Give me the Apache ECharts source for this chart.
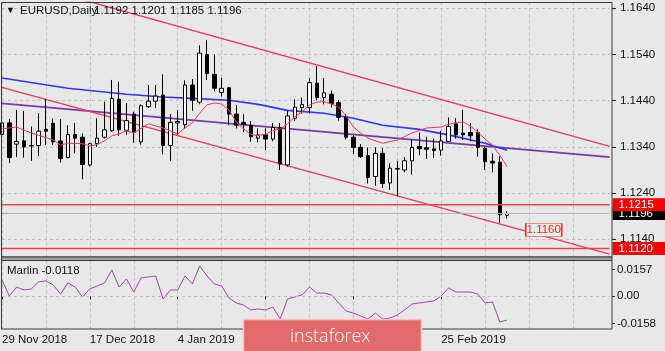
<!DOCTYPE html>
<html>
<head>
<meta charset="utf-8">
<script src="https://cdn.jsdelivr.net/npm/echarts@6/dist/echarts.min.js"></script>
<style>
html, body { margin: 0; padding: 0; background: #e8e8e8; }
#chart { width: 665px; height: 351px; }
</style>
</head>
<body>
<div id="chart"></div>
<script>
// EURUSD daily bars, 29 Nov 2018 .. 8 Mar 2019
const dates = ['29 Nov 2018','30 Nov 2018','3 Dec 2018','4 Dec 2018','5 Dec 2018','6 Dec 2018','7 Dec 2018','10 Dec 2018','11 Dec 2018','12 Dec 2018',
  '13 Dec 2018','14 Dec 2018','17 Dec 2018','18 Dec 2018','19 Dec 2018','20 Dec 2018','21 Dec 2018','24 Dec 2018','26 Dec 2018','27 Dec 2018',
  '28 Dec 2018','31 Dec 2018','2 Jan 2019','3 Jan 2019','4 Jan 2019','7 Jan 2019','8 Jan 2019','9 Jan 2019','10 Jan 2019','11 Jan 2019',
  '14 Jan 2019','15 Jan 2019','16 Jan 2019','17 Jan 2019','18 Jan 2019','21 Jan 2019','22 Jan 2019','23 Jan 2019','24 Jan 2019','25 Jan 2019',
  '28 Jan 2019','29 Jan 2019','30 Jan 2019','31 Jan 2019','1 Feb 2019','4 Feb 2019','5 Feb 2019','6 Feb 2019','7 Feb 2019','8 Feb 2019',
  '11 Feb 2019','12 Feb 2019','13 Feb 2019','14 Feb 2019','15 Feb 2019','18 Feb 2019','19 Feb 2019','20 Feb 2019','21 Feb 2019','22 Feb 2019',
  '25 Feb 2019','26 Feb 2019','27 Feb 2019','28 Feb 2019','1 Mar 2019','4 Mar 2019','5 Mar 2019','6 Mar 2019','7 Mar 2019','8 Mar 2019'];

const opens = [1.1367,1.1392,1.1346,1.1353,1.1342,1.1343,1.1378,1.1391,1.1353,1.1317,
  1.1367,1.1361,1.1301,1.1347,1.1361,1.1375,1.1443,1.1376,1.1411,1.1351,
  1.1427,1.1439,1.1452,1.1343,1.1392,1.1388,1.1474,1.1437,1.1540,1.1497,
  1.1458,1.1468,1.1411,1.1393,1.1386,1.1359,1.1366,1.1357,1.1382,1.1301,
  1.1402,1.1425,1.1425,1.1478,1.1447,1.1454,1.1436,1.1405,1.1361,1.1339,
  1.1321,1.1276,1.1326,1.1262,1.1293,1.1290,1.1310,1.1341,1.1338,1.1336,
  1.1333,1.1352,1.1390,1.1370,1.1371,1.1371,1.1337,1.1309,1.1307,1.1192];
const closes = [1.1392,1.1317,1.1352,1.1340,1.1343,1.1374,1.1374,1.1351,1.1315,1.1367,
  1.1359,1.1302,1.1347,1.1359,1.1377,1.1445,1.1377,1.1397,1.1372,1.1429,
  1.1439,1.1450,1.1343,1.1393,1.1395,1.1474,1.1441,1.1543,1.1499,1.1467,
  1.1467,1.1411,1.1387,1.1389,1.1362,1.1366,1.1357,1.1382,1.1303,1.1407,
  1.1426,1.1432,1.1479,1.1447,1.1457,1.1434,1.1404,1.1361,1.1339,1.1319,
  1.1274,1.1326,1.1261,1.1294,1.1292,1.1310,1.1339,1.1336,1.1335,1.1332,
  1.1353,1.1384,1.1366,1.1366,1.1364,1.1339,1.1308,1.1305,1.1193,1.1196];
const lows = [1.1350,1.1305,1.1318,1.1317,1.1310,1.1320,1.1344,1.1344,1.1306,1.1315,
  1.1326,1.1270,1.1298,1.1340,1.1358,1.1373,1.1364,1.1366,1.1349,1.1345,
  1.1424,1.1424,1.1324,1.1310,1.1366,1.1380,1.1418,1.1432,1.1485,1.1460,
  1.1449,1.1387,1.1380,1.1372,1.1351,1.1350,1.1333,1.1352,1.1290,1.1297,
  1.1396,1.1412,1.1412,1.1441,1.1432,1.1425,1.1397,1.1356,1.1325,1.1316,
  1.1261,1.1256,1.1251,1.1247,1.1233,1.1285,1.1280,1.1322,1.1314,1.1316,
  1.1321,1.1350,1.1358,1.1355,1.1352,1.1319,1.1290,1.1285,1.1176,1.1185];
const highs = [1.1402,1.1400,1.1420,1.1418,1.1384,1.1413,1.1444,1.1402,1.1400,1.1387,
  1.1392,1.1369,1.1349,1.1402,1.1438,1.1485,1.1481,1.1435,1.1416,1.1432,
  1.1474,1.1474,1.1497,1.1411,1.1420,1.1484,1.1487,1.1560,1.1571,1.1540,
  1.1490,1.1470,1.1431,1.1411,1.1396,1.1380,1.1380,1.1392,1.1392,1.1418,
  1.1443,1.1447,1.1489,1.1515,1.1489,1.1462,1.1441,1.1411,1.1366,1.1346,
  1.1339,1.1339,1.1338,1.1305,1.1310,1.1318,1.1356,1.1371,1.1362,1.1358,
  1.1375,1.1404,1.1402,1.1420,1.1391,1.1378,1.1340,1.1326,1.1320,1.1201];

// Marlin oscillator, one value per bar
const marlin = [0.0095,0.0002,0.0054,0.0037,0.0043,0.0084,0.0090,0.0066,0.0013,0.0078,
  0.0054,-0.0004,0.0043,0.0060,0.0078,0.0154,0.0054,0.0101,0.0025,0.0107,
  0.0113,0.0119,-0.0016,0.0037,0.0037,0.0119,0.0072,0.0177,0.0119,0.0072,
  0.0060,-0.0010,-0.0039,-0.0051,-0.0080,-0.0074,-0.0080,-0.0063,-0.0133,-0.0016,
  -0.0004,0.0008,0.0054,0.0019,0.0019,0.0008,-0.0039,-0.0086,-0.0098,-0.0115,
  -0.0133,-0.0098,-0.0133,-0.0127,-0.0109,-0.0080,-0.0045,-0.0039,-0.0033,-0.0027,
  0.0002,0.0049,0.0025,0.0025,0.0025,0.0013,-0.0039,-0.0033,-0.0150,-0.0139];

// moving averages read at some bars: [bar index, price]
const blueMa = [[0,1.1489],[9,1.1467],[17,1.1454],[22,1.1448],[26,1.1445],[31,1.1441],[35,1.1432],[39,1.1419],
  [44,1.1413],[48,1.1402],[52,1.1387],[57,1.1378],[61,1.1366],[66,1.1348],[69,1.1333]];
const redMa = [[0,1.1379],[2,1.1383],[4,1.1370],[7,1.1355],[8,1.1344],[9,1.1348],[11,1.1347],[12,1.1342],[13,1.1345],
  [14,1.1353],[15,1.1364],[16,1.1368],[17,1.1375],[18,1.1370],[20,1.1390],[22,1.1381],[24,1.1368],[25,1.1381],
  [26,1.1392],[27,1.1413],[28,1.1431],[29,1.1435],[30,1.1433],[31,1.1420],[32,1.1394],[33,1.1379],[34,1.1367],
  [35,1.1364],[36,1.1368],[37,1.1375],[38,1.1379],[39,1.1390],[40,1.1405],[41,1.1416],[42,1.1431],[43,1.1437],
  [44,1.1438],[45,1.1433],[46,1.1426],[47,1.1407],[48,1.1383],[49,1.1370],[50,1.1359],[51,1.1353],[52,1.1348],
  [54,1.1355],[56,1.1370],[58,1.1381],[60,1.1383],[61,1.1389],[62,1.1392],[63,1.1394],[64,1.1385],[65,1.1372],
  [66,1.1357],[67,1.1344],[68,1.1322],[69,1.1297]];

// trend lines: [bar index, price]
const upperChannel = [[0,1.1707],[83,1.1341]];
const lowerChannel = [[0,1.1469],[83,1.1108]];
const purpleTrend = [[0,1.1434],[83,1.1318]];

const priceTicks = [1.1140, 1.1240, 1.1340, 1.1440, 1.1540, 1.1640];
const marlinTicks = [0.0157, 0, -0.0158];
const redLevels = [1.1215, 1.1120];
const bidPrice = 1.1196;
const channelTarget = 1.1160;
const lastBar = ['1.1192', '1.1201', '1.1185', '1.1196'];
const marlinLabel = '-0.0118';

const totalBars = 84;
const cats = dates.slice();
for (let k = dates.length; k < totalBars; k++) cats.push('f' + k);

const ohlc = opens.map(function (o, i) { return [o, closes[i], lows[i], highs[i]]; });

const font = '"Liberation Sans", Arial, sans-serif';
const gridDash = { color: '#c2c2c2', type: [3, 3], width: 1 };
const chanRed = '#ec3a5a';

// horizontal price level drawn across the whole panel with a tag at the right axis
function levelSeries(price, lineColor, width, tagColor) {
  return {
    type: 'line', xAxisIndex: 0, yAxisIndex: 0, symbol: 'none', z: 6, silent: true,
    data: [[0, price], [totalBars - 1, price]],
    lineStyle: { color: lineColor, width: width },
    endLabel: {
      show: true, formatter: price.toFixed(4), distance: 3,
      backgroundColor: tagColor, color: '#fff', fontSize: 11.5, fontFamily: font, padding: [1, 20, 0, 6]
    }
  };
}

const chart = echarts.init(document.getElementById('chart'));
chart.setOption({
  animation: false,
  backgroundColor: '#e8e8e8',
  grid: [
    { left: 2, top: 2.3, width: 607.6, height: 254.7, outerBoundsMode: 'none' },
    { left: 2, top: 260.5, width: 607.6, height: 68.5, outerBoundsMode: 'none' }
  ],
  xAxis: [
    {
      type: 'category', gridIndex: 0, data: cats, boundaryGap: false,
      axisLine: { show: false }, axisTick: { show: false }, axisLabel: { show: false },
      splitLine: { show: true, interval: 5, lineStyle: gridDash }
    },
    {
      type: 'category', gridIndex: 1, data: cats, boundaryGap: false,
      axisLine: { show: false },
      axisTick: { show: true, length: 3, lineStyle: { color: '#222' },
        interval: function (i) { return i % 12 === 0 && i < dates.length; } },
      axisLabel: { show: true, fontSize: 11.5, fontFamily: font, color: '#111', margin: 5, align: 'left',
        interval: function (i) { return i % 12 === 0 && i < dates.length; } },
      splitLine: { show: true, interval: 5, lineStyle: gridDash }
    }
  ],
  yAxis: [
    {
      type: 'value', gridIndex: 0, position: 'right', offset: 2.4,
      min: 1.11017, max: 1.16530,
      axisLine: { show: false },
      axisTick: { show: true, length: 4, lineStyle: { color: '#222' }, customValues: priceTicks },
      axisLabel: { show: true, customValues: priceTicks, margin: 8, fontSize: 11.5, fontFamily: font, color: '#111',
        formatter: function (v) { return v.toFixed(4); } },
      splitLine: { show: true, lineStyle: gridDash }
    },
    {
      type: 'value', gridIndex: 1, position: 'right', offset: 2.4,
      min: -0.0191, max: 0.0209,
      axisLine: { show: false },
      axisTick: { show: true, length: 3, lineStyle: { color: '#222' }, customValues: marlinTicks },
      axisLabel: { show: true, customValues: marlinTicks, margin: 5, fontSize: 11.5, fontFamily: font, color: '#111',
        formatter: function (v) { return v === 0 ? '0.00' : v.toFixed(4); } },
      splitLine: { show: false }
    }
  ],
  series: [
    levelSeries(bidPrice, '#b4b4b4', 1, '#000000'),
    levelSeries(redLevels[0], '#ee4252', 1.5, '#ff0000'),
    levelSeries(redLevels[1], '#ee4252', 1.5, '#ff0000'),
    {
      type: 'line', xAxisIndex: 0, yAxisIndex: 0, data: purpleTrend, symbol: 'none', z: 3,
      lineStyle: { color: '#7a38a8', width: 1.8 }
    },
    {
      type: 'line', xAxisIndex: 0, yAxisIndex: 0, data: upperChannel, symbol: 'none', z: 3,
      lineStyle: { color: chanRed, width: 1.4 }
    },
    {
      type: 'line', xAxisIndex: 0, yAxisIndex: 0, data: lowerChannel, symbol: 'none', z: 3,
      lineStyle: { color: chanRed, width: 1.4 }
    },
    {
      type: 'line', xAxisIndex: 0, yAxisIndex: 0, data: blueMa, symbol: 'none', z: 3,
      lineStyle: { color: '#3434f5', width: 1.6 }
    },
    {
      type: 'candlestick', xAxisIndex: 0, yAxisIndex: 0, data: ohlc, barWidth: 4, z: 4,
      itemStyle: { color: '#ffffff', color0: '#000000', borderColor: '#000000', borderColor0: '#000000', borderWidth: 1 },
      markPoint: {
        silent: true, animation: false,
        data: [{
          coord: [cats[74], channelTarget], symbol: 'rect', symbolSize: [36, 13],
          itemStyle: { color: '#ececec', borderColor: '#ff2a2a', borderWidth: 1 },
          label: { show: true, formatter: channelTarget.toFixed(4), color: '#ff1a1a', fontSize: 11.5, fontFamily: font }
        }]
      }
    },
    {
      type: 'line', xAxisIndex: 0, yAxisIndex: 0, data: redMa, symbol: 'none', z: 5,
      lineStyle: { color: '#f0385a', width: 1 }
    },
    {
      type: 'line', xAxisIndex: 1, yAxisIndex: 1, data: marlin, symbol: 'none', z: 3,
      lineStyle: { color: '#a83fb8', width: 1 },
      markLine: {
        silent: true, symbol: 'none', animation: false, label: { show: false },
        lineStyle: gridDash, data: [{ yAxis: 0 }]
      }
    }
  ],
  graphic: [
    { type: 'rect', z: 50, shape: { x: 1.5, y: 2.5, width: 610.5, height: 254.5 },
      style: { fill: null, stroke: '#3a3a3a', lineWidth: 1 } },
    { type: 'rect', z: 50, shape: { x: 1.5, y: 257, width: 610.5, height: 3.5 },
      style: { fill: '#a0a0a0', stroke: '#3a3a3a', lineWidth: 1 } },
    { type: 'rect', z: 50, shape: { x: 1.5, y: 260.5, width: 610.5, height: 68.5 },
      style: { fill: null, stroke: '#3a3a3a', lineWidth: 1 } },
    { type: 'text', z: 50, x: 6, y: 11, style: { text: '\u25BC', fill: '#111', font: '9px ' + font, verticalAlign: 'middle' } },
    { type: 'text', z: 50, x: 20, y: 11, style: { text: 'EURUSD,Daily', fill: '#111', font: '11.5px ' + font, verticalAlign: 'middle' } },
    { type: 'text', z: 50, x: 94, y: 11, style: { text: lastBar.join(' '), fill: '#111', font: '11.5px ' + font, verticalAlign: 'middle' } },
    { type: 'text', z: 50, x: 7, y: 270.5, style: { text: 'Marlin ' + marlinLabel, fill: '#111', font: '11.5px ' + font, verticalAlign: 'middle' } },
    { type: 'rect', z: 100, shape: { x: 243.5, y: 319.5, width: 178, height: 40, r: 1 },
      style: { fill: '#e36a6a', stroke: '#f6c4c4', lineWidth: 1.5 } },
    { type: 'text', z: 101, x: 290, y: 337, style: { text: 'instaforex', fill: '#ffffff', font: '300 18px "Open Sans", sans-serif', verticalAlign: 'middle' } }
  ]
});
</script>
</body>
</html>
